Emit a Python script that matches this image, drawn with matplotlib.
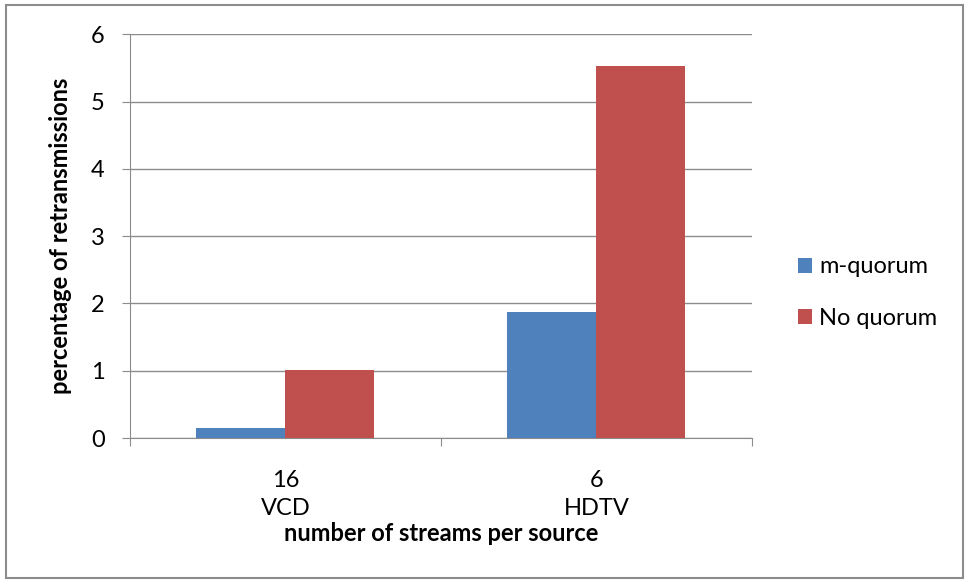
import numpy as np
import matplotlib.pyplot as plt
from matplotlib.patches import Rectangle

categories = ["16\nVCD", "6\nHDTV"]
m_quorum = [0.15, 1.87]
no_quorum = [1.01, 5.53]
series_names = ["m-quorum", "No quorum"]

plt.rcParams['font.family'] = ['Lato', 'DejaVu Sans']

fig = plt.figure(figsize=(9.69, 5.81), dpi=100)
ax = fig.add_axes([0.134, 0.246, 0.642, 0.695])

x = np.arange(len(categories))
w = 0.286
ax.bar(x - w / 2, m_quorum, w, color='#4f81bd', label=series_names[0], zorder=3)
ax.bar(x + w / 2, no_quorum, w, color='#c0504d', label=series_names[1], zorder=3)

ax.set_xlim(-0.5, 1.5)
ax.set_ylim(0, 6)
ax.set_yticks(range(7))
ax.yaxis.grid(True, color='#8c8c8c', linewidth=1, zorder=0)
ax.tick_params(axis='y', labelsize=17, length=6, color='#8c8c8c', pad=12)

# category labels between boundary ticks
ax.set_xticks([-0.5, 0.5, 1.5])
ax.set_xticklabels([])
ax.tick_params(axis='x', length=6, color='#8c8c8c')
for xi, lab in zip(x, categories):
    ax.text(xi, -0.48, lab, ha='center', va='top', fontsize=17, linespacing=1.4,
            transform=ax.transData)

for s in ['top', 'right']:
    ax.spines[s].set_visible(False)
for s in ['left', 'bottom']:
    ax.spines[s].set_color('#8c8c8c')

ax.set_ylabel("percentage of retransmissions", fontsize=17, fontweight='bold', labelpad=14)
fig.text(0.455, 0.081, "number of streams per source", ha='center', va='center',
         fontsize=17, fontweight='bold')

leg = ax.legend(loc='center left', bbox_to_anchor=(1.04, 0.36), frameon=False,
                fontsize=17, handlelength=0.6, handleheight=0.6, labelspacing=1.3,
                handletextpad=0.3)

fig.patches.append(Rectangle((0.006, 0.006), 0.988, 0.986, transform=fig.transFigure,
                             fill=False, edgecolor='#8c8c8c', linewidth=1.5))

fig.savefig("out.png", dpi=100)
